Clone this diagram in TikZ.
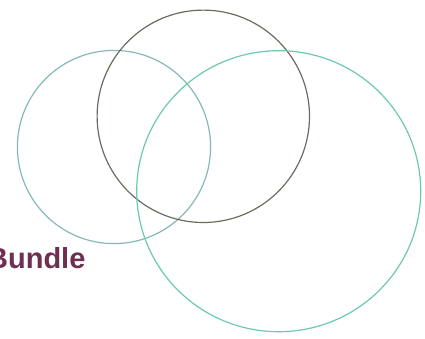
\documentclass[tikz,border=0pt]{standalone}
\usepackage{fontspec}
\setmainfont{Liberation Sans}
\definecolor{greyteal}{HTML}{86B8B8}
\definecolor{darkring}{HTML}{6F6A60}
\definecolor{greenteal}{HTML}{6CC8B2}
\definecolor{plum}{HTML}{6E2F52}
\begin{document}
\begin{tikzpicture}[x=1pt,y=-1pt,line width=1.2pt,every node/.style={font=\bfseries\fontsize{29}{29}\selectfont,inner sep=0pt}]
\useasboundingbox (0,0) rectangle (425,338);
\coordinate (L) at (114,147);
\coordinate (D) at (203.3,116.3);
\coordinate (G) at (278.7,191.2);
\draw[greyteal] (L) circle[radius=96.6];
\draw[darkring] (D) circle[radius=106.2];
\draw[greenteal] (G) circle[x radius=142,y radius=140.5];
\node[plum,anchor=base east] (bundle) at (86,268) {Bundle};
\end{tikzpicture}
\end{document}
